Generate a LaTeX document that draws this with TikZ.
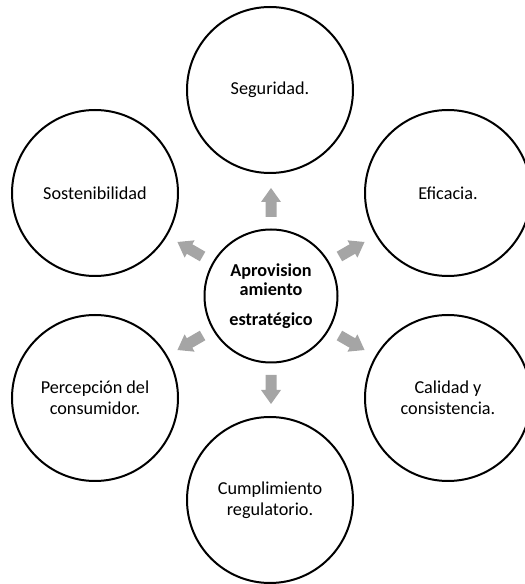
\documentclass[tikz,border=0pt]{standalone}
\usepackage{fontspec}
\setmainfont{Carlito}
\definecolor{arrowgray}{HTML}{A5A5A5}
\begin{document}
\begin{tikzpicture}[x=1pt,y=1pt,
  outer/.style={circle,draw=black,line width=2pt,minimum size=166pt,inner sep=0pt,
    align=center,font=\fontsize{18.2}{21.5}\selectfont},
  hub/.style={circle,draw=black,line width=2pt,minimum size=133pt,inner sep=0pt,
    align=center,font=\fontsize{18.2}{22}\selectfont\bfseries},
  blockarrow/.style={fill=arrowgray,draw=none}]
\useasboundingbox (0,0) rectangle (525,584);
\clip (0,0) rectangle (525,584);
\node[hub] (c) at (271,288) {Aprovision\\[-3pt]amiento\\[8pt]estratégico};
\node[outer] (top) at (270,494) {Seguridad.};
\node[outer] (ur) at (448,391) {Eficacia.};
\node[outer] (lr) at (448,186) {Calidad y\\consistencia.};
\node[outer] (bot) at (270,84) {Cumplimiento\\regulatorio.};
\node[outer] (ll) at (95,186) {Percepción del\\consumidor.};
\node[outer] (ul) at (95,391) {Sostenibilidad};
\foreach \a in {90,30,-30,-90,-150,150}{
  \path[blockarrow,shift={(c.center)},rotate=\a]
    (79,-5.5) -- (94,-5.5) -- (94,-10) -- (108,0) -- (94,10) -- (94,5.5) -- (79,5.5) -- cycle;
}
\end{tikzpicture}
\end{document}
